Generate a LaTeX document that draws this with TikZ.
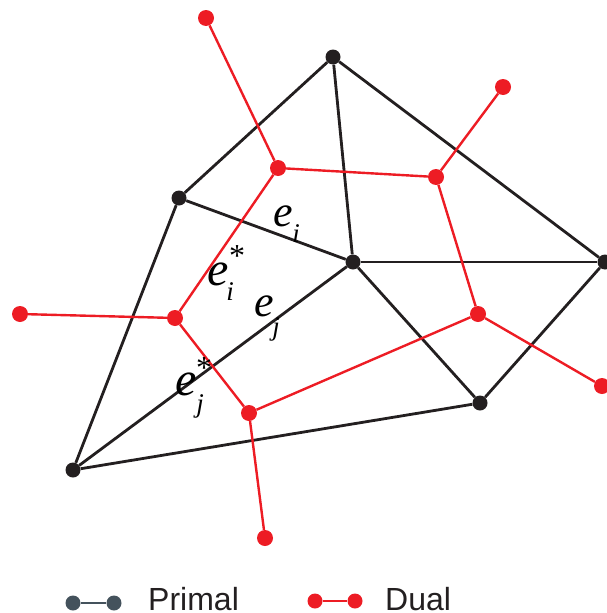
\documentclass[tikz,border=0pt]{standalone}
\usepackage{fontspec}
\setmainfont{Liberation Serif}
\newfontfamily\legendfont{Liberation Sans}
\definecolor{primalc}{HTML}{231F20}
\definecolor{dualc}{HTML}{ED1C24}
\definecolor{legc}{HTML}{44525C}
\begin{document}
\begin{tikzpicture}[x=1pt,y=-1pt,
  pdot/.style={circle,fill=primalc,inner sep=0pt,minimum size=15pt},
  ddot/.style={circle,fill=dualc,inner sep=0pt,minimum size=16pt},
  ldot/.style={circle,fill=legc,inner sep=0pt,minimum size=15pt},
  pedge/.style={draw=primalc,line width=2.8pt},
  dedge/.style={draw=dualc,line width=2.4pt},
  ledge/.style={draw=legc,line width=2.6pt},
  lab/.style={inner sep=0pt,font=\fontsize{44}{44}\selectfont\itshape},
  labbig/.style={inner sep=0pt,font=\fontsize{48}{48}\selectfont\itshape},
  sub/.style={inner sep=0pt,font=\fontsize{27}{27}\selectfont\itshape},
  star/.style={inner sep=0pt,font=\fontsize{32}{32}\selectfont},
  legtext/.style={inner sep=0pt,anchor=base west,font=\legendfont\fontsize{32}{32}\selectfont,text=primalc}]
\useasboundingbox (0,0) rectangle (607,613);

% primal vertices
\node[pdot] (A) at (333,57) {};
\node[pdot] (B) at (179,198) {};
\node[pdot] (C) at (353,262) {};
\node[pdot] (D) at (605,262) {};
\node[pdot] (E) at (480,403) {};
\node[pdot] (F) at (73,470) {};

% primal edges
\foreach \u/\v in {A/B,A/C,A/D,B/C,B/F,C/F,C/D,C/E,D/E,E/F}
  \draw[pedge] (\u) -- (\v);

% dual vertices
\node[ddot] (r1) at (278,168) {};
\node[ddot] (r2) at (436,177) {};
\node[ddot] (r3) at (175,318) {};
\node[ddot] (r4) at (478,314) {};
\node[ddot] (r5) at (249,413) {};
\node[ddot] (o1) at (206,18) {};
\node[ddot] (o2) at (503,87) {};
\node[ddot] (o3) at (20,314) {};
\node[ddot] (o4) at (602,386) {};
\node[ddot] (o5) at (265,538) {};

% dual edges
\foreach \u/\v in {r1/r2,r1/r3,r2/r4,r3/r5,r5/r4,r1/o1,r2/o2,r3/o3,r4/o4,r5/o5}
  \draw[dedge] (\u) -- (\v);

% edge labels
\node[lab] (ei) at (283,216) {e};
\node[sub] (eisub) at (296,234) {i};
\node[labbig] (eis) at (218,274) {e};
\node[star] (eisstar) at (237,256) {*};
\node[sub] (eissub) at (230,292) {i};
\node[lab] (ej) at (264,306) {e};
\node[sub] (ejsub) at (276,329) {j};
\node[labbig] (ejs) at (186,384) {e};
\node[star] (ejsstar) at (204,368) {*};
\node[sub] (ejssub) at (200,406) {j};

% legend
\node[ldot] (lp1) at (73,603) {};
\node[ldot] (lp2) at (114,603) {};
\draw[ledge] (lp1) -- (lp2);
\node[legtext] (lpt) at (148,610) {Primal};
\node[ddot,minimum size=15pt] (ld1) at (315,601) {};
\node[ddot,minimum size=15pt] (ld2) at (355,601) {};
\draw[dedge] (ld1) -- (ld2);
\node[legtext] (ldt) at (385,610) {Dual};
\end{tikzpicture}
\end{document}
